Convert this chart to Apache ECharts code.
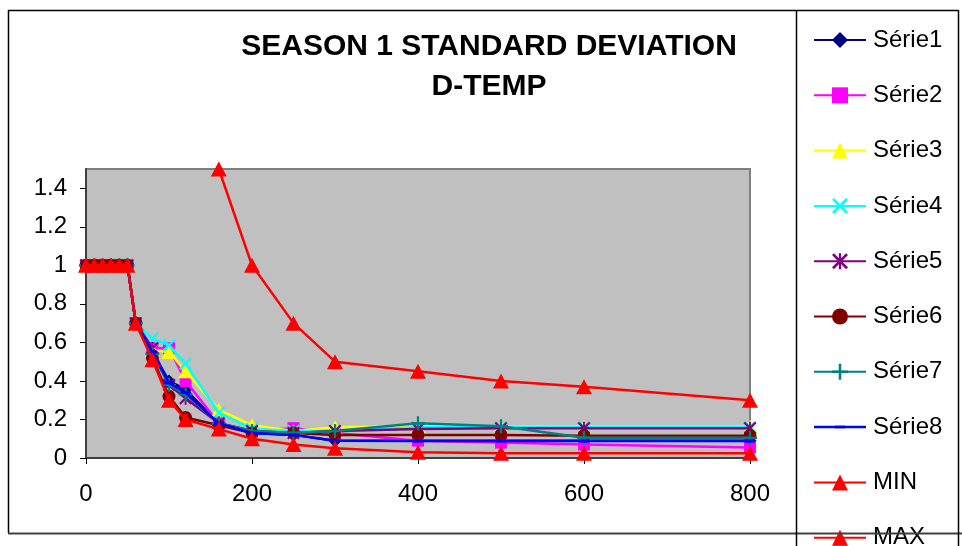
<!DOCTYPE html>
<html><head><meta charset="utf-8">
<script src="https://cdn.jsdelivr.net/npm/echarts@6/dist/echarts.min.js"></script>
<style>html,body{margin:0;padding:0;background:#fff}#c{width:962px;height:546px}</style>
</head><body><div id="c"></div>
<script>
var xValues = [0,10,20,30,40,50,60,80,100,120,160,200,250,300,400,500,600,800];
var serie1 = [1,1,1,1,1,1,0.70,0.55,0.40,0.355,0.18,0.13,0.12,0.09,0.09,0.09,0.09,0.09];
var serie2 = [1,1,1,1,1,1,0.70,0.57,0.57,0.40,0.18,0.14,0.155,0.13,0.09,0.08,0.07,0.055];
var serie3 = [1,1,1,1,1,1,0.70,0.56,0.55,0.45,0.25,0.17,0.14,0.16,0.165,0.162,0.162,0.162];
var serie4 = [1,1,1,1,1,1,0.70,0.62,0.585,0.49,0.235,0.15,0.14,0.14,0.16,0.16,0.16,0.16];
var serie5 = [1,1,1,1,1,1,0.70,0.57,0.38,0.31,0.18,0.14,0.13,0.14,0.15,0.155,0.155,0.155];
var serie6 = [1,1,1,1,1,1,0.70,0.52,0.32,0.21,0.17,0.13,0.13,0.12,0.12,0.12,0.115,0.115];
var serie7 = [1,1,1,1,1,1,0.70,0.54,0.38,0.33,0.18,0.14,0.13,0.14,0.18,0.165,0.105,0.105];
var serie8 = [1,1,1,1,1,1,0.70,0.55,0.39,0.34,0.18,0.13,0.12,0.09,0.088,0.088,0.088,0.088];
var minValues = [1,1,1,1,1,1,0.70,0.51,0.30,0.20,0.15,0.10,0.07,0.05,0.03,0.025,0.025,0.025];
var maxValues = [null,null,null,null,null,null,null,null,null,null,1.5,1.0,0.7,0.5,0.45,0.4,0.37,0.3];
var seriesNames = ['Série1','Série2','Série3','Série4','Série5','Série6','Série7','Série8','MIN','MAX'];
var yTickValues = [0,0.2,0.4,0.6,0.8,1,1.2,1.4];
var xTickLabels = [0,200,400,600,800];
var titleText = 'SEASON 1 STANDARD DEVIATION\nD-TEMP';

var FONT = '"Liberation Sans", Arial, sans-serif';
var X_PATH = 'path://M1.2,0 L5,3.8 L8.8,0 L10,1.2 L6.2,5 L10,8.8 L8.8,10 L5,6.2 L1.2,10 L0,8.8 L3.8,5 L0,1.2 Z';
var STAR_PATH = 'path://M4.3,0 H5.7 V10 H4.3 Z M1.2,0 L5,3.8 L8.8,0 L10,1.2 L6.2,5 L10,8.8 L8.8,10 L5,6.2 L1.2,10 L0,8.8 L3.8,5 L0,1.2 Z';
var PLUS_PATH = 'path://M4.2,0 H5.8 V4.2 H10 V5.8 H5.8 V10 H4.2 V5.8 H0 V4.2 H4.2 Z';

var styles = [
  {color:'#000080', symbol:'diamond', size:13},
  {color:'#FF00FF', symbol:'rect', size:12},
  {color:'#FFFF00', symbol:'triangle', size:[15,14]},
  {color:'#00FFFF', symbol:X_PATH, size:13},
  {color:'#800080', symbol:STAR_PATH, size:13},
  {color:'#800000', symbol:'circle', size:13},
  {color:'#008080', symbol:PLUS_PATH, size:14},
  {color:'#0000FF', symbol:'rect', size:[10,3]},
  {color:'#FF0000', symbol:'triangle', size:[16,15]},
  {color:'#FF0000', symbol:'triangle', size:[16,15]}
];
var allValues = [serie1,serie2,serie3,serie4,serie5,serie6,serie7,serie8,minValues,maxValues];

var series = allValues.map(function(vals, i){
  var st = styles[i];
  return {
    name: seriesNames[i], type:'line',
    data: xValues.map(function(x, j){ return [x, vals[j]]; }).filter(function(p){ return p[1] !== null; }),
    symbol: st.symbol, symbolSize: st.size,
    showAllSymbol: true,
    itemStyle: {color: st.color},
    lineStyle: {color: st.color, width: 2.5},
    animation: false, z: 2 + i * 0.01
  };
});

var legendData = seriesNames.map(function(n, i){
  var d = {name: n};
  if (i === 7) { d.icon = 'path://M0,0 H0.01 V20 H0 Z M0,8.75 H52 V11.25 H0 Z M21,8.5 H31 V11.5 H21 Z'; }
  return d;
});

var chart = echarts.init(document.getElementById('c'), null, {renderer:'canvas'});
chart.setOption({
  animation: false,
  backgroundColor: '#ffffff',
  title: {
    text: titleText, left: 489, top: 27, textAlign: 'center', padding: 0,
    textStyle: {fontFamily: FONT, fontWeight: 'bold', fontSize: 30, lineHeight: 40, color: '#000'}
  },
  grid: {
    left: 86, right: 212, top: 169, bottom: 88, show: true,
    backgroundColor: '#C0C0C0', borderColor: '#808080', borderWidth: 2
  },
  legend: {
    orient: 'vertical', left: 813, top: 28, height: 700, padding: 0,
    itemWidth: 52, itemHeight: 20, itemGap: 31.3,
    data: legendData,
    textStyle: {fontFamily: FONT, fontSize: 24, color: '#000', lineHeight: 24, padding: [0,0,0,2]},
    selectedMode: false
  },
  xAxis: {
    type: 'value', min: 0, max: 800, interval: 200,
    axisLine: {show: true, onZero: false, lineStyle: {color: '#404040', width: 2}},
    axisTick: {show: true, length: 6, lineStyle: {color: '#000', width: 1}},
    axisLabel: {fontFamily: FONT, fontSize: 24, color: '#000', margin: 24,
      customValues: xTickLabels},
    splitLine: {show: false}
  },
  yAxis: {
    type: 'value', min: 0, max: 1.5,
    axisLine: {show: true, onZero: false, lineStyle: {color: '#404040', width: 2}},
    axisTick: {show: true, length: 6, lineStyle: {color: '#000', width: 1}, customValues: yTickValues},
    axisLabel: {fontFamily: FONT, fontSize: 24, color: '#000', margin: 19, customValues: yTickValues},
    splitLine: {show: false}
  },
  graphic: [
    {type:'line', shape:{x1:8, y1:10.5, x2:958, y2:10.5}, style:{stroke:'#000', lineWidth:1.5}, z:100},
    {type:'line', shape:{x1:8.5, y1:10, x2:8.5, y2:533}, style:{stroke:'#000', lineWidth:1.5}, z:100},
    {type:'line', shape:{x1:8, y1:533.5, x2:962, y2:533.5}, style:{stroke:'#404040', lineWidth:2}, z:100},
    {type:'line', shape:{x1:796.5, y1:10, x2:796.5, y2:546}, style:{stroke:'#000', lineWidth:1.5}, z:100},
    {type:'line', shape:{x1:958.5, y1:10, x2:958.5, y2:546}, style:{stroke:'#000', lineWidth:1.5}, z:100}
  ],
  series: series
});
</script>
</body></html>
